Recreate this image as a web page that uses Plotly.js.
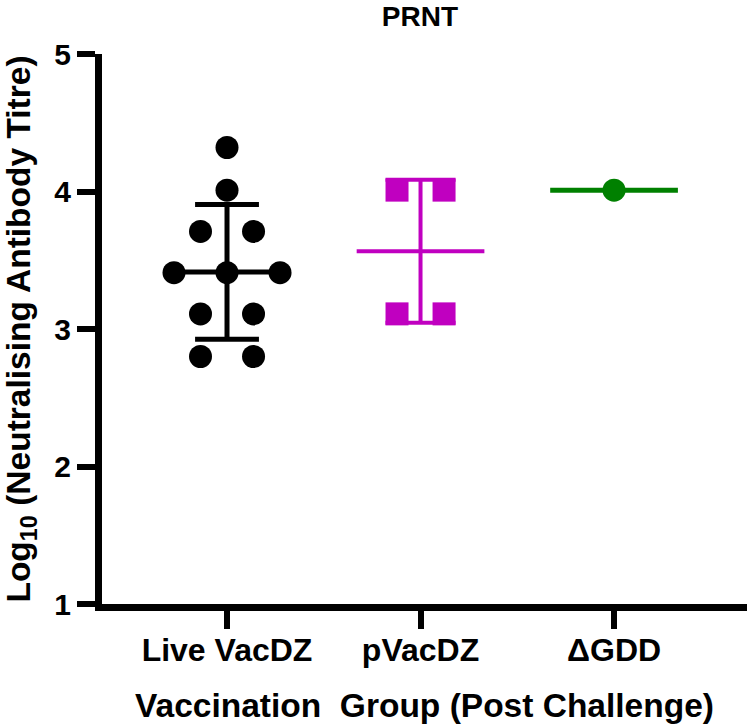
<!DOCTYPE html>
<html>
<head>
<meta charset="utf-8">
<script src="https://cdn.plot.ly/plotly-3.0.1.min.js"></script>
<style>html,body{margin:0;padding:0;background:#fff;}#chart{width:747px;height:725px;}</style>
</head>
<body>
<div id="chart"></div>
<script>
// ---- data ----
const categories = ["Live VacDZ", "pVacDZ", "\u0394GDD"];
const liveVacDZ = [4.32, 4.01, 3.71, 3.71, 3.41, 3.41, 3.41, 3.11, 3.11, 2.80, 2.80];
const pVacDZ = [4.01, 4.01, 3.11, 3.11];
const deltaGDD = [4.01];
const groupMeans = [3.415, 3.565, 4.01];
const groupSDs = [0.49, 0.52, null];
const yTickValues = [1, 2, 3, 4, 5];
const chartTitle = "PRNT";
const xTitle = "Vaccination\u00a0 Group (Post Challenge)";
const yTitle = "Log<sub>10</sub> (Neutralising Antibody Titre)";

// ---- styles ----
const groups = [
  {vals: liveVacDZ, color: "#000000", symbol: "circle", size: 23, spread: 0.274, meanHalf: 0.274, capHalf: 0.165, lw: 5},
  {vals: pVacDZ, color: "#C000C0", symbol: "square", size: 23, spread: 0.243, meanHalf: 0.33, capHalf: 0.181, lw: 4},
  {vals: deltaGDD, color: "#008000", symbol: "circle", size: 23, spread: 0.25, meanHalf: 0.33, capHalf: 0.18, lw: 5}
];

// spread tied values symmetrically around the category centre (column scatter)
function spreadX(vals, centre, step) {
  const counts = {}, seen = {};
  vals.forEach(v => counts[v] = (counts[v] || 0) + 1);
  return vals.map(v => {
    const n = counts[v];
    const i = seen[v] = (seen[v] === undefined ? 0 : seen[v] + 1);
    return centre + (i - (n - 1) / 2) * step;
  });
}

const traces = [];
groups.forEach((g, gi) => {
  traces.push({
    type: "scatter", mode: "markers",
    x: spreadX(g.vals, gi, g.spread), y: g.vals,
    marker: {symbol: g.symbol, size: g.size, color: g.color, line: {width: 0}},
    hoverinfo: "skip", showlegend: false
  });
  const m = groupMeans[gi], s = groupSDs[gi];
  traces.push({
    type: "scatter", mode: "lines",
    x: [gi - g.meanHalf, gi + g.meanHalf], y: [m, m],
    line: {color: g.color, width: g.lw}, hoverinfo: "skip", showlegend: false
  });
  if (s !== null) {
    traces.push({
      type: "scatter", mode: "lines",
      x: [gi, gi, null, gi - g.capHalf, gi + g.capHalf, null, gi - g.capHalf, gi + g.capHalf],
      y: [m - s, m + s, null, m + s, m + s, null, m - s, m - s],
      line: {color: g.color, width: g.lw}, hoverinfo: "skip", showlegend: false
    });
  }
});

const font = "'Liberation Sans', Arial, sans-serif";
const layout = {
  width: 747, height: 725,
  margin: {l: 102, r: 0, t: 54, b: 121},
  paper_bgcolor: "#fff", plot_bgcolor: "#fff",
  font: {family: font, color: "#000", size: 30, weight: "bold"},
  title: {
    text: chartTitle, x: 0.493, xref: "paper", xanchor: "center",
    y: 0.978, yref: "container", yanchor: "middle",
    font: {family: font, size: 28, color: "#000", weight: "bold"}
  },
  xaxis: {
    range: [-0.646, 2.687], showgrid: false, zeroline: false,
    showline: true, linecolor: "#000", linewidth: 7,
    tickmode: "array", tickvals: [0, 1, 2], ticktext: categories,
    ticks: "outside", ticklen: 18, tickwidth: 6, tickcolor: "#000",
    ticklabelstandoff: -6,
    tickfont: {family: font, size: 32, color: "#000", weight: "bold"},
    title: {text: xTitle, standoff: 29, font: {family: font, size: 33.5, color: "#000", weight: "bold"}},
    automargin: false, fixedrange: true
  },
  yaxis: {
    range: [1, 5], showgrid: false, zeroline: false,
    showline: true, linecolor: "#000", linewidth: 7,
    tickmode: "array", tickvals: yTickValues,
    ticks: "outside", ticklen: 18, tickwidth: 6, tickcolor: "#000",
    tickfont: {family: font, size: 30, color: "#000", weight: "bold"},
    title: {text: yTitle, standoff: 18, font: {family: font, size: 33.5, color: "#000", weight: "bold"}},
    automargin: false, fixedrange: true
  }
};

Plotly.newPlot("chart", traces, layout, {displayModeBar: false, staticPlot: true});
</script>
</body>
</html>
